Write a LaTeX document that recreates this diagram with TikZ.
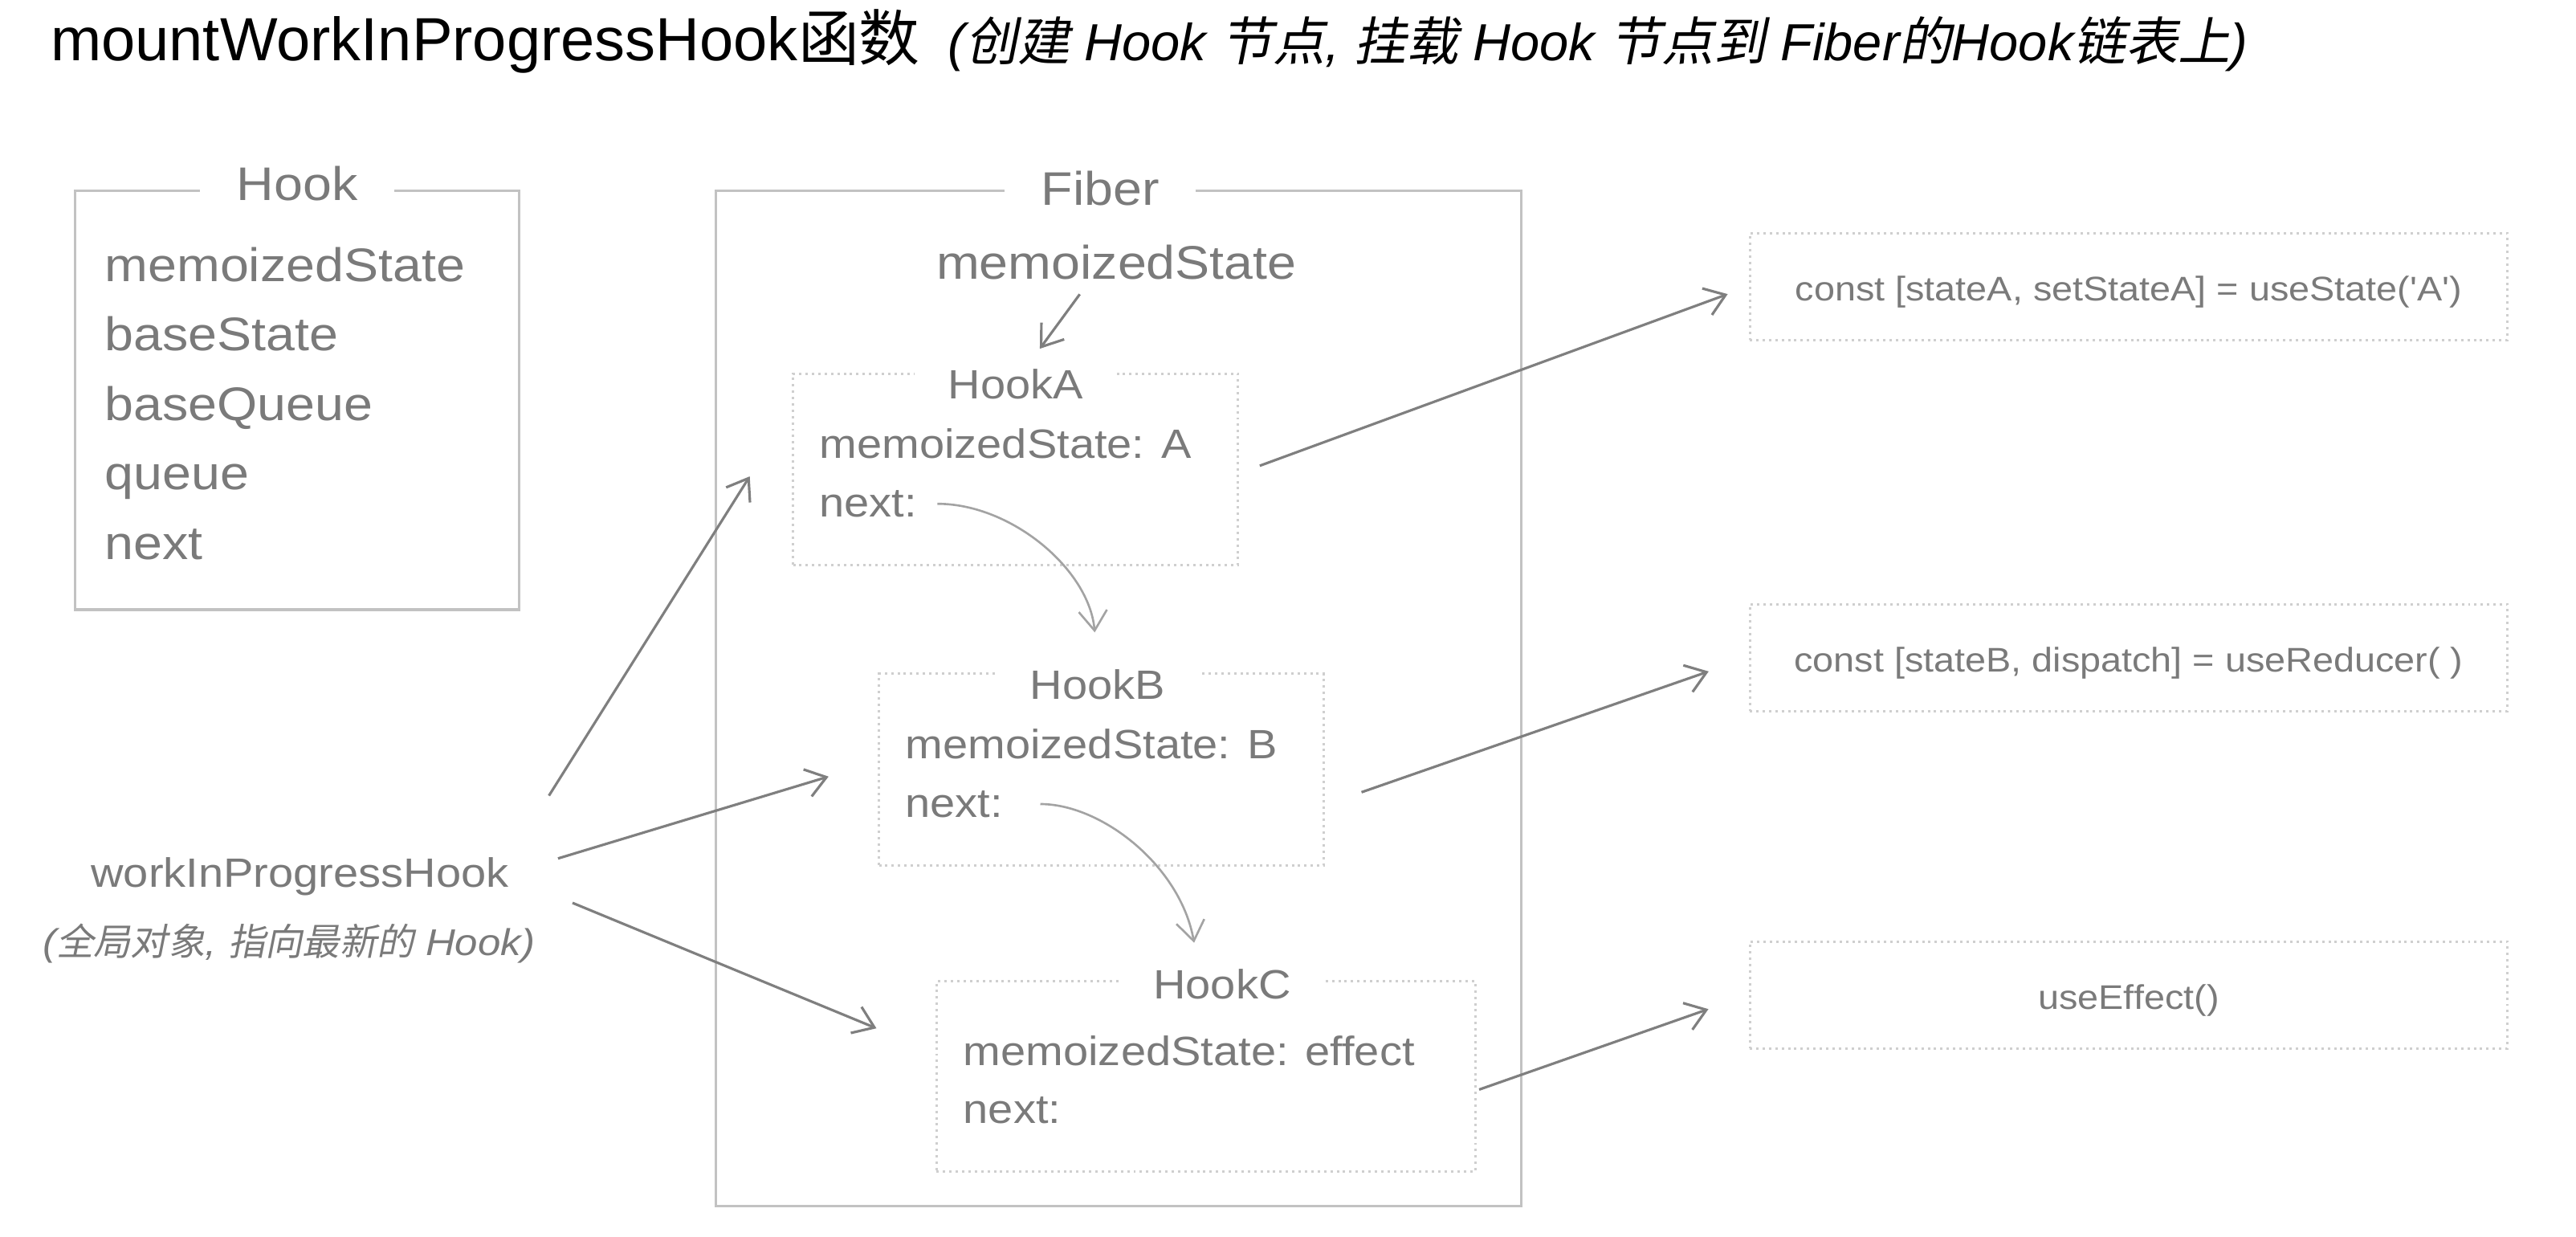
\documentclass[tikz,border=0pt]{standalone}
\usepackage{fontspec}
\setmainfont{Liberation Sans}
\newfontfamily\diag{Liberation Sans}[FakeStretch=1.1]
\newfontfamily\cjk{Noto Sans CJK SC}
\newfontfamily\cjkit{Noto Sans CJK SC}[FakeSlant=0.2]
\usetikzlibrary{arrows.meta,fit,positioning}

\definecolor{txtgray}{HTML}{7A7A7A}
\definecolor{framegray}{HTML}{C2C2C2}
\definecolor{dotgray}{HTML}{CFCFCF}
\definecolor{arrgray}{HTML}{7F7F7F}
\definecolor{curvegray}{HTML}{A3A3A3}

\tikzset{
  frame/.style={draw=framegray, line width=0.95pt, inner sep=0pt},
  dotframe/.style={draw=dotgray, line width=0.85pt, dash pattern=on 0.85pt off 1.4pt, inner sep=0pt},
  bigtitle/.style={fill=white, text=txtgray, inner xsep=13pt, inner ysep=2pt, font=\diag\fontsize{16.7pt}{20pt}\selectfont},
  smalltitle/.style={fill=white, text=txtgray, inner xsep=12pt, inner ysep=2pt, font=\diag\fontsize{14.5pt}{18pt}\selectfont},
  field/.style={text=txtgray, inner sep=0pt, font=\diag\fontsize{16.7pt}{20pt}\selectfont},
  item/.style={text=txtgray, inner sep=0pt, font=\diag\fontsize{14.5pt}{18pt}\selectfont},
  note/.style={text=txtgray, inner sep=0pt, font=\diag\itshape\fontsize{13.2pt}{16pt}\selectfont},
  codebox/.style={dotframe, text=txtgray, minimum width=268.5pt, minimum height=37.85pt,
    text height=10.4pt, text depth=0pt, font=\diag\fontsize{12.1pt}{15pt}\selectfont},
  arr/.style={draw=arrgray, line width=0.9pt, -{Straight Barb[length=7pt,width=10pt]}},
  carr/.style={draw=curvegray, line width=0.75pt, -{Straight Barb[length=7pt,width=10pt]}}
}

\begin{document}
\begin{tikzpicture}[x=0.02046cm, y=-0.02046cm]
  \useasboundingbox (0,0) rectangle (1568,752.7);

  \node[anchor=base west, inner sep=0pt] (title) at (30.5,36.7)
    {{\fontsize{21.6pt}{26pt}\selectfont mountWorkInProgressHook{\cjk 函数}}\hspace{10pt}%
     {\fontsize{18.5pt}{22pt}\selectfont\itshape ({\cjkit 创建} Hook {\cjkit 节点}, {\cjkit 挂载} Hook {\cjkit 节点到} Fiber{\cjkit 的}Hook{\cjkit 链表上})}};

  % Hook struct
  \node[frame, fit={(45.6,116) (316,371)}] (hook) {};
  \node[bigtitle, anchor=base] (hookt) at (180.9,122) {Hook};
  \foreach \f [count=\i] in {memoizedState,baseState,baseQueue,queue,next}
    \node[field, anchor=base west] (hf\i) at (63.5,{171.3+42.25*(\i-1)}) {\f};

  % Fiber
  \node[frame, fit={(435.8,116) (926,734)}] (fiber) {};
  \node[bigtitle, anchor=base] (fibert) at (669.75,125) {Fiber};
  \node[field, anchor=base] (fms) at (679.55,170) {memoizedState};

  \node[dotframe, fit={(482.7,227.3) (753.5,344)}] (hA) {};
  \node[smalltitle, anchor=base] (hAt) at (618.25,242.6) {HookA};
  \node[item, anchor=base west] (hAms) at (498.5,278.9) {memoizedState: A};
  \node[item, anchor=base west] (hAn) at (498.5,314.5) {next:};

  \node[dotframe, fit={(535,410) (805.8,526.5)}] (hB) {};
  \node[smalltitle, anchor=base] (hBt) at (668,425.3) {HookB};
  \node[item, anchor=base west] (hBms) at (550.8,461.6) {memoizedState: B};
  \node[item, anchor=base west] (hBn) at (550.8,497.2) {next:};

  \node[dotframe, fit={(570.1,597.1) (898,712.8)}] (hC) {};
  \node[smalltitle, anchor=base] (hCt) at (743.85,607.7) {HookC};
  \node[item, anchor=base west] (hCms) at (586.1,648.4) {memoizedState: effect};
  \node[item, anchor=base west] (hCn) at (586.1,683.4) {next:};

  % hook calls
  \node[codebox] (useA) at (1295.7,174.3) {const [stateA, setStateA] = useState('A')};
  \node[codebox] (useB) at (1295.7,400.1) {const [stateB, dispatch] = useReducer( )};
  \node[codebox] (useC) at (1295.7,605.45) {useEffect()};

  % workInProgressHook
  \node[field, font=\diag\fontsize{14.5pt}{18pt}\selectfont, anchor=base] (wip) at (182.6,540) {workInProgressHook};
  \node[note, anchor=base] (wipnote) at (175.8,581.6) {({\cjkit 全局对象}, {\cjkit 指向最新的} Hook)};

  \draw[arr, shorten <=6.1pt, shorten >=6.2pt] (fms.-146) -- (hAt.57.6);
  \draw[carr, shorten <=7pt, shorten >=10.9pt] (hAn.east) to[out=0, in=95] (hBt.north);
  \draw[carr, shorten <=13pt, shorten >=7.2pt] (hBn.east) to[out=0, in=100] (hCt.139);

  \draw[arr, shorten <=26.3pt, shorten >=28pt] (wip.5.6) -- (hA.165.6);
  \draw[arr, shorten <=18pt, shorten >=18.2pt] (wip.1) -- (hB.178.2);
  \draw[arr, shorten <=24.2pt, shorten >=22.6pt] (wip.0) -- (hC.175.3);

  \draw[arr, shorten <=7.8pt, shorten >=7.9pt] (hA.-1.1) -- (useA.west);
  \draw[arr, shorten <=13.7pt, shorten >=15pt] (hB.-9.1) -- (useB.west);
  \draw[arr, shorten <=1pt, shorten >=15.1pt] (hC.-3.9) -- (useC.west);
\end{tikzpicture}
\end{document}
